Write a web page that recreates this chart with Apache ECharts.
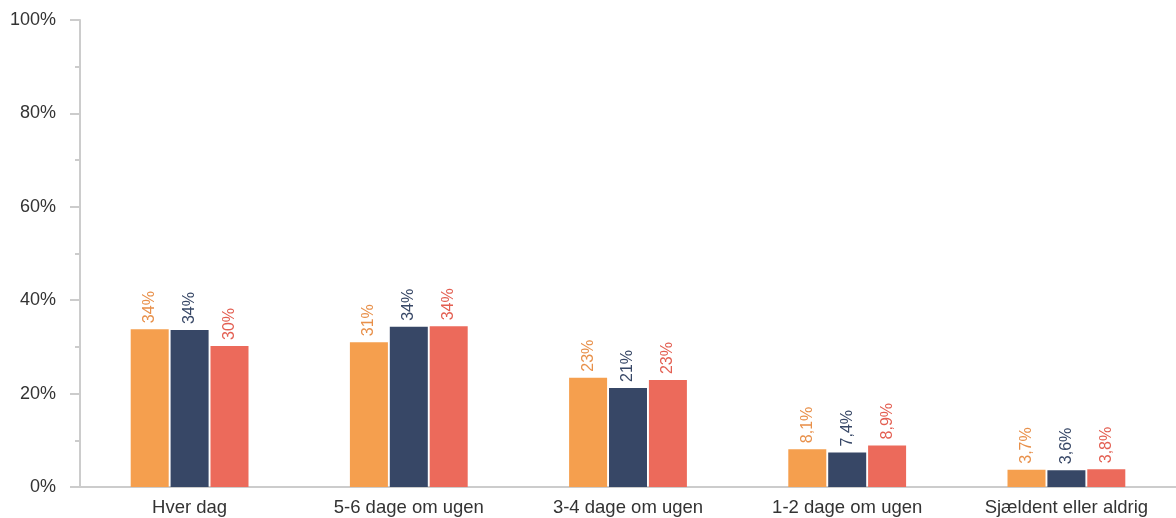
<!DOCTYPE html>
<html><head><meta charset="utf-8">
<script src="https://cdn.jsdelivr.net/npm/echarts@6/dist/echarts.min.js"></script>
<style>html,body{margin:0;padding:0;background:#fff}#c{width:1176px;height:518px}</style>
</head><body><div id="c"></div>
<script>
const categories = ["Hver dag", "5-6 dage om ugen", "3-4 dage om ugen", "1-2 dage om ugen", "Sjældent eller aldrig"];
const seriesA = [33.8, 31.0, 23.4, 8.1, 3.7];
const seriesB = [33.6, 34.3, 21.2, 7.4, 3.6];
const seriesC = [30.2, 34.4, 22.9, 8.9, 3.8];
const colors = ["#F59F4E", "#374766", "#EC6A5B"];
const labelColors = ["#E8904A", "#374766", "#E35F52"];
const yTicks = [0, 20, 40, 60, 80, 100];

function fmt(v){
  if (v >= 10) return Math.round(v) + "%";
  return v.toFixed(1).replace(".", ",") + "%";
}
const FONT = "Liberation Sans, Arial, sans-serif";
function mk(data, i){
  return {
    type: "bar", data: data, barWidth: 38, barGap: "5%",
    itemStyle: { color: colors[i] },
    label: { show: true, position: "top", rotate: 90, align: "left", verticalAlign: "middle",
      distance: 6, color: labelColors[i], fontFamily: FONT, fontSize: 16,
      formatter: p => fmt(p.value) },
    emphasis: { disabled: true }
  };
}
const chart = echarts.init(document.getElementById("c"), null, {renderer: "canvas"});
chart.setOption({
  animation: false,
  grid: { left: 80, right: 0, top: 20, bottom: 31, containLabel: false },
  xAxis: { type: "category", data: categories,
    axisLine: { lineStyle: { color: "#cccccc", width: 2 } },
    axisTick: { show: false },
    axisLabel: { color: "#333", fontFamily: FONT, fontSize: 18.5, margin: 11 } },
  yAxis: { type: "value", min: yTicks[0], max: yTicks[yTicks.length-1], interval: 20,
    axisLine: { show: true, lineStyle: { color: "#cccccc", width: 2 } },
    axisTick: { show: true, length: 10, lineStyle: { color: "#cccccc", width: 2 } },
    minorTick: { show: true, splitNumber: 2, length: 5, lineStyle: { color: "#cccccc", width: 2 } },
    splitLine: { show: false },
    axisLabel: { color: "#333", fontFamily: FONT, fontSize: 18, margin: 24, formatter: v => v + "%" } },
  series: [mk(seriesA,0), mk(seriesB,1), mk(seriesC,2)]
});
</script></body></html>
